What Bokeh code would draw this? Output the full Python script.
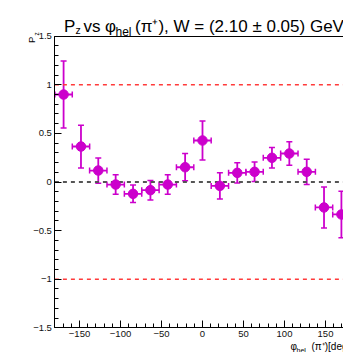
import numpy as np
from bokeh.plotting import figure
from bokeh.models import (Range1d, LinearAxis, FixedTicker, Whisker, ColumnDataSource,
                          TeeHead, Label)
from bokeh.embed import file_html
from bokeh.resources import INLINE

# ---------------- data ----------------
phi_center = [-169.4, -148.2, -127.1, -105.9, -84.7, -63.5, -42.4, -21.2, 0.0,
              21.2, 42.4, 63.5, 84.7, 105.9, 127.1, 148.2, 169.4]
phi_halfwidth = [10.59] * 17
pz = [0.90, 0.365, 0.118, -0.026, -0.122, -0.084, -0.026, 0.152, 0.427,
      -0.040, 0.094, 0.105, 0.249, 0.293, 0.105, -0.262, -0.334]
pz_err = [0.345, 0.22, 0.13, 0.10, 0.09, 0.10, 0.10, 0.14, 0.20,
          0.135, 0.105, 0.10, 0.105, 0.12, 0.13, 0.21, 0.24]

ref_levels = [1.0, 0.0, -1.0]
ref_colors = ["#ff3b3b", "#555555", "#ff3b3b"]
ref_widths = [1.5, 1.8, 1.5]

x_lo, x_hi = -180, 180
y_lo, y_hi = -1.5, 1.5
x_ticks = [-150, -100, -50, 0, 50, 100, 150]
x_tick_labels = ["\u2212150", "\u2212100", "\u221250", "0", "50", "100", "150"]
y_ticks = [-1.5, -1.0, -0.5, 0.0, 0.5, 1.0, 1.5]
y_tick_labels = ["\u22121.5", "\u22121", "\u22120.5", "0", "0.5", "1", "1.5"]

FONT = "Liberation Sans"
MAG = "#cc00cc"

# ---------------- pixel <-> data mapping (layout) ----------------
W, H = 343, 352
PX_LEFT, PX_PER_DEG = 54.4, 0.82
PY_ZERO, PX_PER_UNIT = 181.5, 97.2

def dx(px):
    return x_lo + (px - PX_LEFT) / PX_PER_DEG

def dy(py):
    return (PY_ZERO - py) / PX_PER_UNIT

# ---------------- figure ----------------
p = figure(width=W, height=H, output_backend="svg", toolbar_location=None,
           x_range=Range1d(dx(0), dx(W)), y_range=Range1d(dy(H), dy(0)),
           x_axis_location=None, y_axis_location=None,
           min_border=0, outline_line_color=None,
           background_fill_color="white", border_fill_color="white")
p.grid.visible = False

def style(ax):
    ax.major_tick_in = 7
    ax.major_tick_out = 0
    ax.minor_tick_in = 4
    ax.minor_tick_out = 0
    ax.axis_line_color = "black"
    ax.major_tick_line_color = "black"
    ax.minor_tick_line_color = "black"
    ax.major_label_text_font = FONT
    ax.major_label_text_font_size = "9.5px"
    ax.major_label_text_color = "#111111"

xax = LinearAxis(fixed_location=y_lo, bounds=(x_lo, x_hi),
                 ticker=FixedTicker(ticks=x_ticks, minor_ticks=list(np.arange(-180, 181, 10))),
                 major_label_overrides={t: l for t, l in zip(x_ticks, x_tick_labels)},
                 major_label_standoff=3)
style(xax)
p.add_layout(xax, "below")

yax = LinearAxis(fixed_location=x_lo, bounds=(y_lo, y_hi),
                 ticker=FixedTicker(ticks=y_ticks,
                                    minor_ticks=list(np.round(np.arange(-1.5, 1.51, 0.1), 2))),
                 major_label_overrides={t: l for t, l in zip(y_ticks, y_tick_labels)},
                 major_label_standoff=3)
style(yax)
p.add_layout(yax, "left")

top = LinearAxis(fixed_location=y_hi, bounds=(x_lo, x_hi), ticker=FixedTicker(ticks=[]),
                 major_label_text_font_size="0px", major_tick_in=0, major_tick_out=0,
                 minor_tick_in=0, minor_tick_out=0, axis_line_color="black")
p.add_layout(top, "above")

# reference dashed lines
for lvl, col, lw in zip(ref_levels, ref_colors, ref_widths):
    p.segment(x0=[x_lo], x1=[x_hi], y0=[lvl], y1=[lvl], line_color=col,
              line_dash="4 4", line_width=lw)

# error bars + markers
x = np.array(phi_center)
y = np.array(pz)
src = ColumnDataSource(dict(
    x=x, y=y,
    yu=y + np.array(pz_err), yl=y - np.array(pz_err),
    xu=x + np.array(phi_halfwidth), xl=x - np.array(phi_halfwidth)))

def tee():
    return TeeHead(size=6, line_color=MAG, line_width=1.5)

p.add_layout(Whisker(source=src, base="x", upper="yu", lower="yl", dimension="height",
                     line_color=MAG, line_width=1.8, upper_head=tee(), lower_head=tee()))
p.add_layout(Whisker(source=src, base="y", upper="xu", lower="xl", dimension="width",
                     line_color=MAG, line_width=1.8, upper_head=tee(), lower_head=tee()))
p.scatter("x", "y", source=src, size=9.5, color=MAG)

# ---------------- texts ----------------
def lab(px, py, text, size, angle=0.0):
    p.add_layout(Label(x=dx(px), y=dy(py), text=text, text_font=FONT,
                       text_font_size=size, text_color="black",
                       text_align="left", text_baseline="alphabetic",
                       angle=angle, angle_units="rad"))

# title
lab(63.5, 25.5, "P", "17px")
lab(75.0, 29.0, "z", "10.5px")
lab(83.0, 25.5, "vs", "17px")
lab(104.5, 25.5, "\u03c6", "17px")
lab(115.0, 31.0, "hel", "12px")
lab(134.5, 25.5, "(\u03c0\u207a), W = (2.10 \u00b1 0.05) GeV", "17px")

# y-axis title (rotated)
lab(30.5, 42.5, "P", "9.5px", angle=np.pi / 2)
lab(35.5, 35.0, "z", "6.5px", angle=np.pi / 2)

# x-axis title
lab(290.0, 345.5, "\u03c6", "10px")
lab(296.0, 349.5, "hel", "7px")
lab(311.0, 345.5, "(\u03c0\u207a)[deg]", "10px")

open("out.html", "w").write(file_html(p, INLINE))
